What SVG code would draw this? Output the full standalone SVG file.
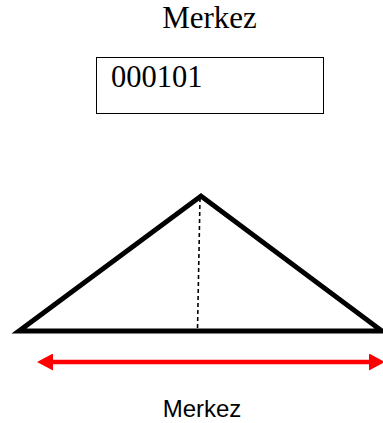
<svg xmlns="http://www.w3.org/2000/svg" width="383" height="423" viewBox="0 0 383 423">
<style>
.serif{font-family:"Liberation Serif","Times New Roman",serif;fill:#000}
.sans{font-family:"Liberation Sans",Arial,sans-serif;fill:#000}
</style>
<defs>
<marker id="ah" viewBox="0 0 16 17" refX="1" refY="8.5" markerWidth="16" markerHeight="17" markerUnits="userSpaceOnUse" orient="auto-start-reverse">
<path d="M0,0 L16,8.5 L0,17 Z" fill="#ff0000"/>
</marker>
</defs>
<rect width="383" height="423" fill="#fff"/>
<g id="title"><text class="serif" x="209.5" y="28" font-size="31" text-anchor="middle">Merkez</text></g>
<g id="box">
<rect x="96.5" y="57.5" width="227" height="56" fill="none" stroke="#000" stroke-width="1"/>
<text class="serif" x="111" y="87" font-size="30.5">000101</text>
</g>
<g id="triangle">
<path d="M19,331 L201,196 L382,331 Z" fill="none" stroke="#000" stroke-width="5" stroke-linejoin="miter"/>
<line x1="200" y1="198" x2="197.5" y2="330" stroke="#000" stroke-width="1.6" stroke-dasharray="4,3"/>
</g>
<g id="connectors">
<line x1="52" y1="362" x2="370" y2="362" stroke="#ff0000" stroke-width="4.5" marker-start="url(#ah)" marker-end="url(#ah)"/>
</g>
<g id="label"><text class="sans" x="202" y="417" font-size="24" text-anchor="middle">Merkez</text></g>
</svg>
